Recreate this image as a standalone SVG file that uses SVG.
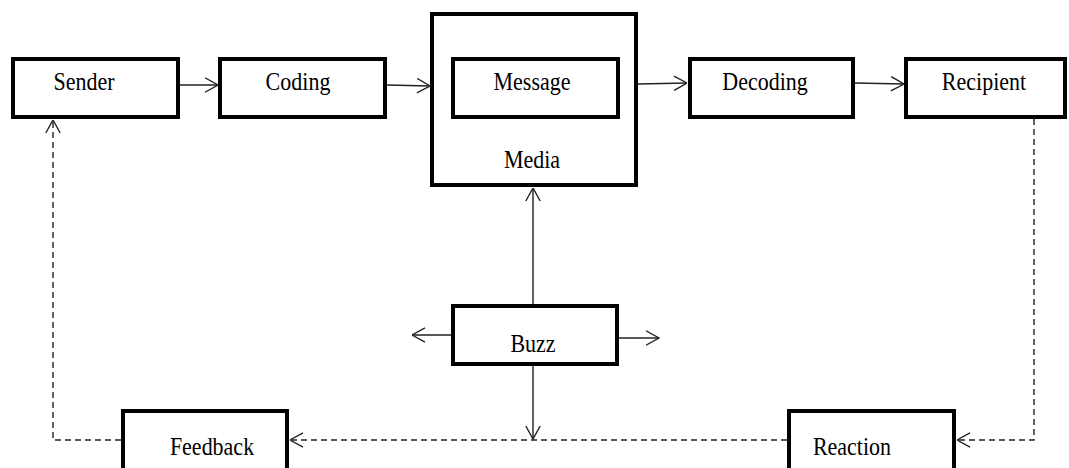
<svg xmlns="http://www.w3.org/2000/svg" width="1069" height="468" viewBox="0 0 1069 468">
  <style>
    .box { fill: #ffffff; stroke: #000000; stroke-width: 4; }
    .lbl { font-family: "Liberation Serif", "Times New Roman", serif; font-size: 22px; fill: #000000; text-anchor: middle; }
    .link { fill: none; stroke: #222222; stroke-width: 1.4; }
    .dash { stroke-dasharray: 6 4; }
  </style>
  <defs>
    <marker id="open" viewBox="0 0 14 16" refX="13.5" refY="8" markerWidth="14" markerHeight="16" markerUnits="userSpaceOnUse" orient="auto">
      <path d="M0.5,0.8 L13.5,8 L0.5,15.2" fill="none" stroke="#222222" stroke-width="1.4"/>
    </marker>
  </defs>

  <g id="connectors">
    <line class="link" x1="180" y1="85" x2="218" y2="85" marker-end="url(#open)"/>
    <line class="link" x1="387" y1="85" x2="430" y2="86" marker-end="url(#open)"/>
    <line class="link" x1="638" y1="84" x2="687" y2="83" marker-end="url(#open)"/>
    <line class="link" x1="855" y1="83" x2="904" y2="84" marker-end="url(#open)"/>
    <line class="link" x1="533" y1="304" x2="533" y2="188" marker-end="url(#open)"/>
    <line class="link" x1="533" y1="366" x2="533" y2="439" marker-end="url(#open)"/>
    <line class="link" x1="451" y1="335" x2="412" y2="335" marker-end="url(#open)"/>
    <line class="link" x1="619" y1="338" x2="659" y2="338" marker-end="url(#open)"/>
    <polyline class="link dash" points="1034,119 1034,440 957,440" marker-end="url(#open)"/>
    <line class="link dash" x1="787" y1="440" x2="290" y2="440" marker-end="url(#open)"/>
    <polyline class="link dash" points="121,440 53,440 53,120" marker-end="url(#open)"/>
  </g>

  <g id="sender">
    <rect class="box" x="13" y="59" width="165" height="58"/>
    <text class="lbl" transform="translate(84,90) scale(1,1.12)">Sender</text>
  </g>
  <g id="coding">
    <rect class="box" x="220" y="59" width="165" height="58"/>
    <text class="lbl" transform="translate(298,90) scale(1,1.12)">Coding</text>
  </g>
  <g id="media">
    <rect class="box" x="432" y="14" width="204" height="171"/>
    <text class="lbl" transform="translate(532,168) scale(1,1.12)">Media</text>
  </g>
  <g id="message">
    <rect class="box" x="453" y="59" width="165" height="58"/>
    <text class="lbl" transform="translate(532,90) scale(1,1.12)">Message</text>
  </g>
  <g id="decoding">
    <rect class="box" x="690" y="59" width="163" height="58"/>
    <text class="lbl" transform="translate(765,90) scale(1,1.12)">Decoding</text>
  </g>
  <g id="recipient">
    <rect class="box" x="906" y="59" width="159" height="58"/>
    <text class="lbl" transform="translate(984,90) scale(1,1.12)">Recipient</text>
  </g>
  <g id="buzz">
    <rect class="box" x="453" y="306" width="164" height="58"/>
    <text class="lbl" transform="translate(533,352) scale(1,1.12)">Buzz</text>
  </g>
  <g id="feedback">
    <rect class="box" x="123" y="411" width="164" height="62"/>
    <text class="lbl" transform="translate(212,455) scale(1,1.12)">Feedback</text>
  </g>
  <g id="reaction">
    <rect class="box" x="789" y="411" width="165" height="62"/>
    <text class="lbl" transform="translate(852,455) scale(1,1.12)">Reaction</text>
  </g>
</svg>
